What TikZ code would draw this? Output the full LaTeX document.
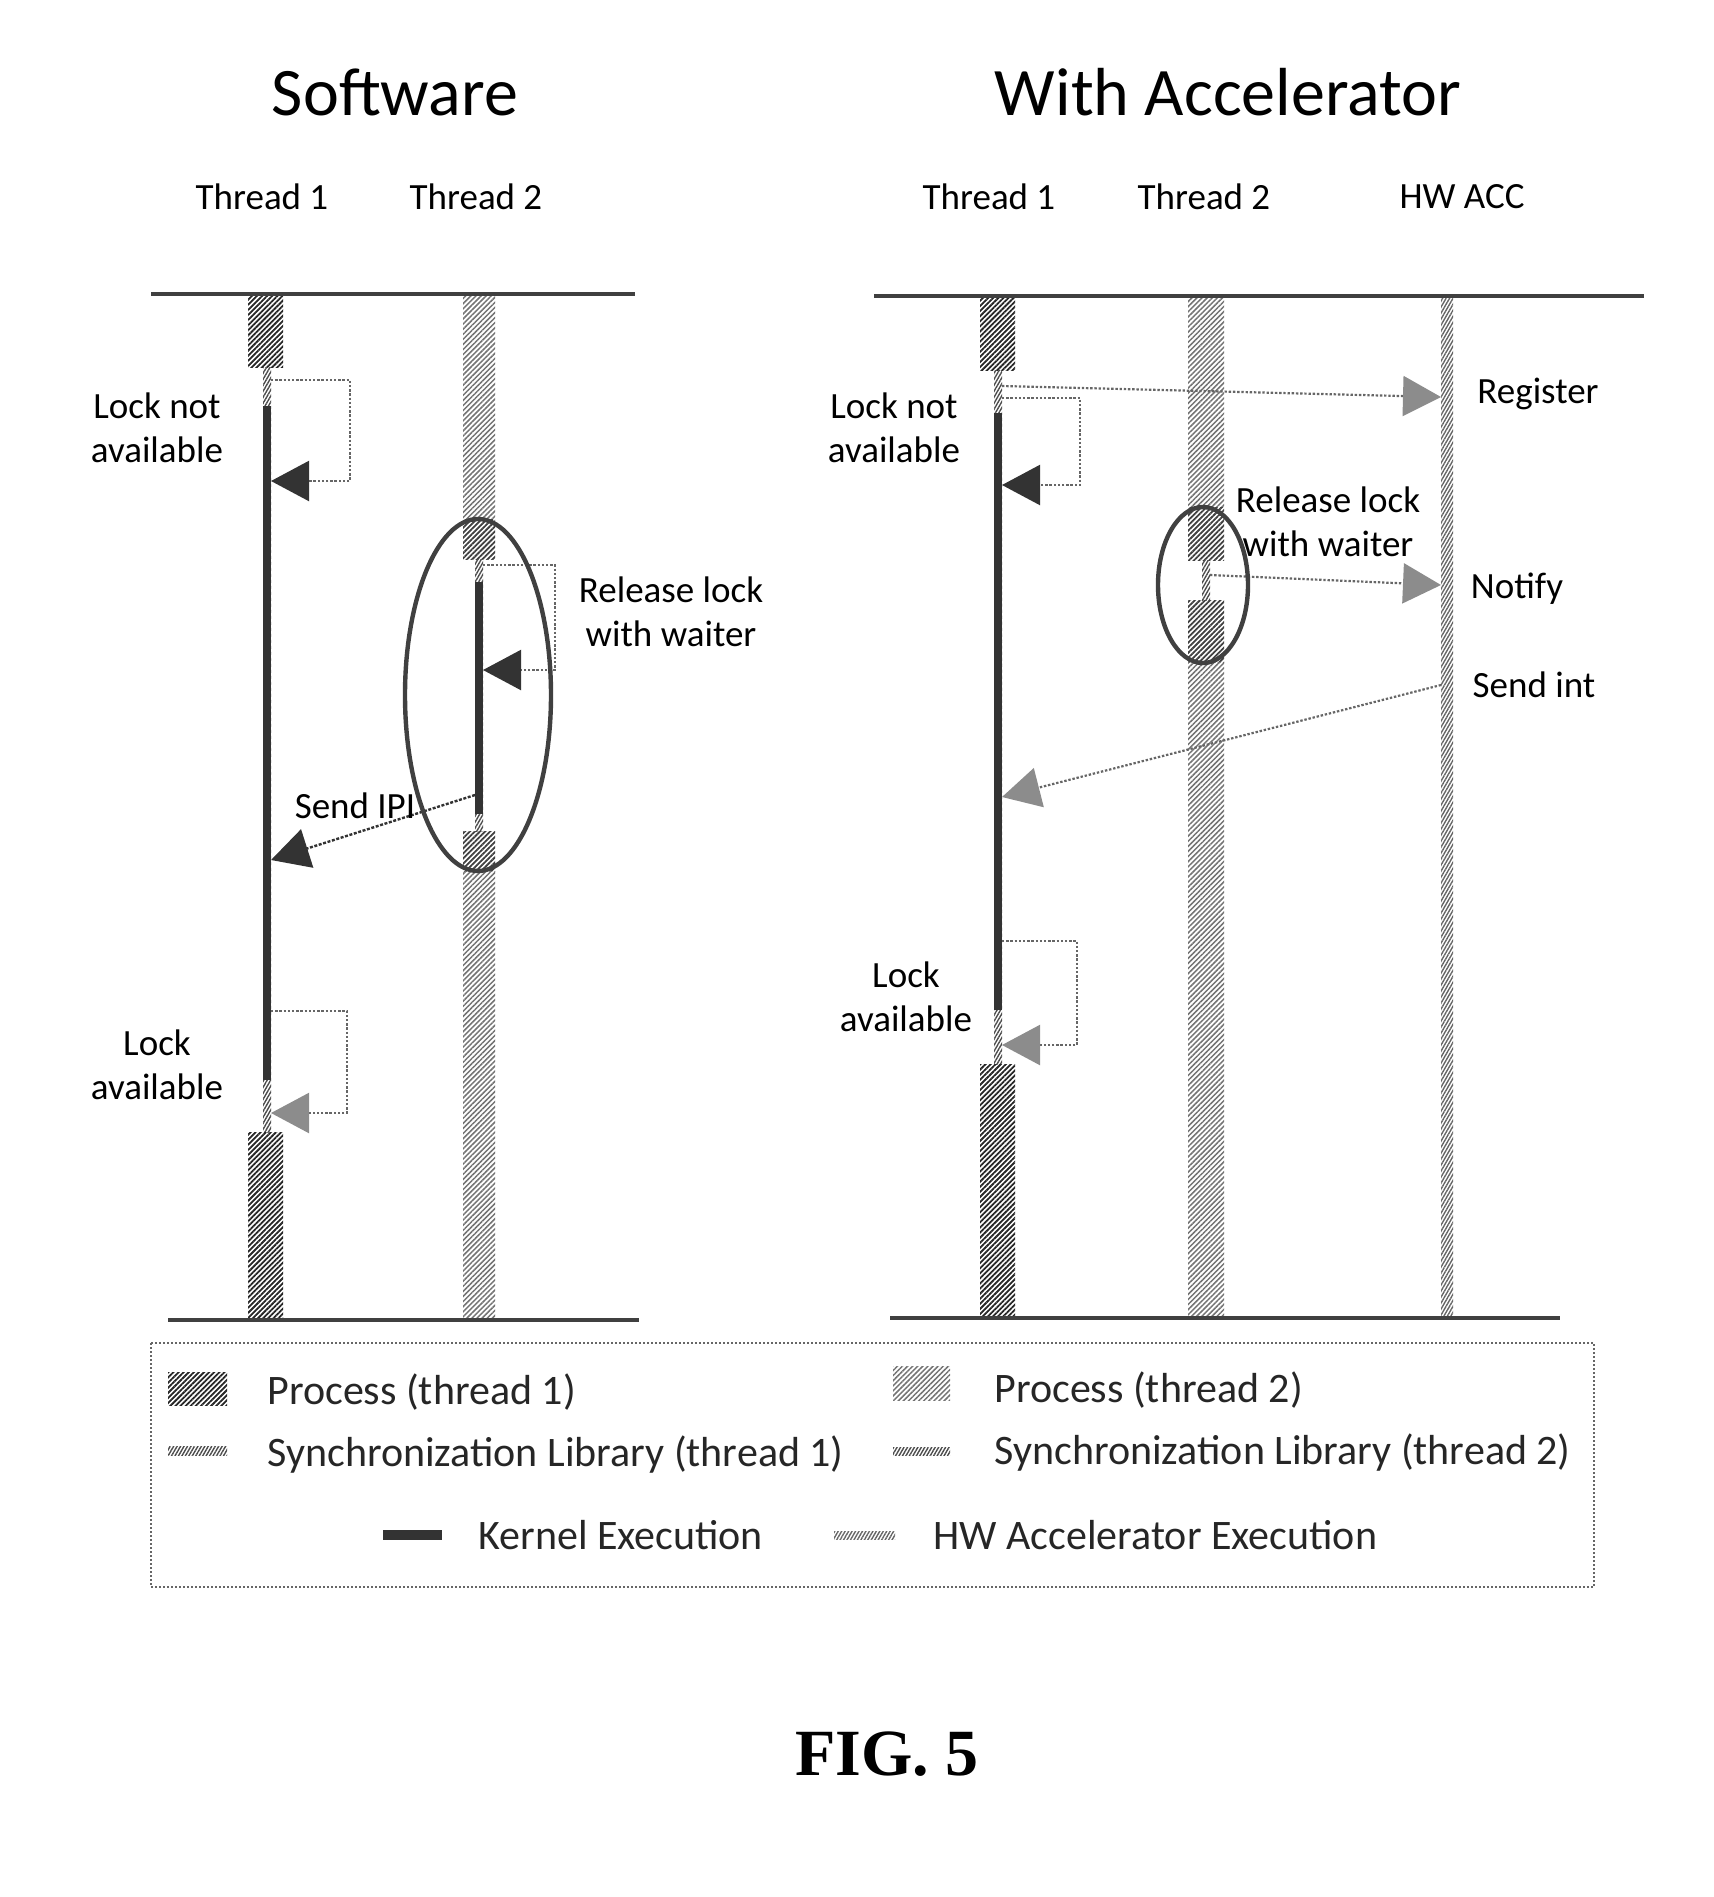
\documentclass[tikz,border=0pt]{standalone}
\usepackage{fontspec}
\setmainfont{Carlito}
\newfontfamily\figfont{Liberation Serif}
\usetikzlibrary{patterns.meta,arrows.meta}
\begin{document}
\begin{tikzpicture}[x=0.5pt,y=-0.5pt,
  procA/.style={pattern={Lines[angle=45,distance=1.8pt,line width=0.9pt]},pattern color=black!85},
  procB/.style={pattern={Lines[angle=45,distance=1.8pt,line width=0.75pt]},pattern color=black!55},
  procBd/.style={pattern={Lines[angle=45,distance=1.8pt,line width=0.9pt]},pattern color=black!75},
  syncbar/.style={pattern={Lines[angle=60,distance=1.5pt,line width=0.7pt]},pattern color=black!70},
  hwbar/.style={pattern={Lines[angle=60,distance=1.5pt,line width=0.7pt]},pattern color=black!60},
  kernel/.style={fill=black!80},
  timeaxis/.style={draw=black!75,line width=1.8pt},
  conn/.style={draw=black!60,line width=1.1pt,dash pattern=on 1.2pt off 0.9pt},
  conndark/.style={draw=black!80,line width=1.2pt,dash pattern=on 1.5pt off 0.8pt},
  darktip/.style={-{Triangle[length=19pt,width=20pt,fill=black!80,color=black!80]}},
  greytip/.style={-{Triangle[length=19pt,width=20pt,fill=black!45,color=black!45]}},
  ring/.style={draw=black!75,line width=2.2pt},
  ttl/.style={font=\fontsize{34}{40}\selectfont,inner sep=0pt},
  lane/.style={font=\fontsize{18.5}{22}\selectfont,inner sep=0pt},
  lbl/.style={font=\fontsize{18.5}{22}\selectfont,align=center,inner sep=0pt},
  legtxt/.style={font=\fontsize{21}{25}\selectfont,anchor=west,inner sep=0pt,text=black!85},
  legbox/.style={draw=black!60,line width=0.8pt,dash pattern=on 1pt off 1pt},
  figlbl/.style={font=\figfont\bfseries\fontsize{33}{38}\selectfont,inner sep=0pt}
]
\useasboundingbox (0,0) rectangle (1714,1897);

% ---------- titles ----------
\node[ttl] (tsw) at (395,92) {Software};
\node[ttl] (tacc) at (1228,92) {With Accelerator};
\node[lane] (hs1) at (262,197) {Thread 1};
\node[lane] (hs2) at (476,197) {Thread 2};
\node[lane] (ha1) at (989,197) {Thread 1};
\node[lane] (ha2) at (1204,197) {Thread 2};
\node[lane] (hhw) at (1462,197) {HW ACC};

% ---------- software: thread 1 ----------
\fill[procA] (248,294) rectangle (283,367);
\fill[syncbar] (263,367) rectangle (271,1132);
\fill[kernel] (263,406) rectangle (271,1080);
\fill[procA] (248,1132) rectangle (283,1320);
% ---------- software: thread 2 ----------
\fill[procB] (463,294) rectangle (495,519);
\fill[procBd] (463,519) rectangle (495,559);
\fill[syncbar] (475,559) rectangle (483,831);
\fill[kernel] (475,582) rectangle (483,814);
\fill[procBd] (463,831) rectangle (495,871);
\fill[procB] (463,871) rectangle (495,1320);

\draw[timeaxis] (151,294) -- (635,294);
\draw[timeaxis] (168,1320) -- (639,1320);

% software connectors
\coordinate (sA1) at (271,380); \coordinate (sA2) at (350,481); \coordinate (sA3) at (271,481);
\draw[conn,darktip] (sA1) -| (sA2) -- (sA3);
\coordinate (sB1) at (483,565); \coordinate (sB2) at (555,670); \coordinate (sB3) at (483,670);
\draw[conn,darktip] (sB1) -| (sB2) -- (sB3);
\coordinate (sC1) at (475,795); \coordinate (sC2) at (271,860);
\draw[conndark,darktip] (sC1) -- (sC2);
\coordinate (sD1) at (271,1011); \coordinate (sD2) at (347,1113); \coordinate (sD3) at (271,1113);
\draw[conn,greytip] (sD1) -| (sD2) -- (sD3);
\draw[ring] (478,695) ellipse [x radius=73, y radius=176];

\node[lbl] (sl1) at (157,428) {Lock not\\available};
\node[lbl] (sl2) at (671,612) {Release lock\\with waiter};
\node[lbl] (sl3) at (355,806) {Send IPI};
\node[lbl] (sl4) at (157,1065) {Lock\\available};

% ---------- accelerator: thread 1 ----------
\fill[procA] (980,296) rectangle (1015,370);
\fill[syncbar] (994,370) rectangle (1002,1064);
\fill[kernel] (994,413) rectangle (1002,1010);
\fill[procA] (980,1064) rectangle (1015,1318);
% ---------- accelerator: thread 2 ----------
\fill[procB] (1188,296) rectangle (1224,507);
\fill[procBd] (1188,507) rectangle (1224,560);
\fill[syncbar] (1202,560) rectangle (1210,600);
\fill[procBd] (1188,600) rectangle (1224,662);
\fill[procB] (1188,662) rectangle (1224,1318);
% ---------- HW ACC ----------
\fill[hwbar] (1441,296) rectangle (1453,1318);

\draw[timeaxis] (874,296) -- (1644,296);
\draw[timeaxis] (890,1318) -- (1560,1318);

% accelerator connectors
\coordinate (rA1) at (1002,386); \coordinate (rA2) at (1441,397);
\draw[conn,greytip] (rA1) -- (rA2);
\coordinate (rB1) at (1002,398); \coordinate (rB2) at (1080,485); \coordinate (rB3) at (1002,485);
\draw[conn,darktip] (rB1) -| (rB2) -- (rB3);
\coordinate (rC1) at (1210,575); \coordinate (rC2) at (1441,585);
\draw[conn,greytip] (rC1) -- (rC2);
\coordinate (rD1) at (1441,685); \coordinate (rD2) at (1002,797);
\draw[conn,greytip] (rD1) -- (rD2);
\coordinate (rE1) at (1002,941); \coordinate (rE2) at (1077,1045); \coordinate (rE3) at (1002,1045);
\draw[conn,greytip] (rE1) -| (rE2) -- (rE3);
\draw[ring] (1203,585) ellipse [x radius=45, y radius=78];

\node[lbl] (al1) at (894,428) {Lock not\\available};
\node[lbl] (al2) at (1538,394) {Register};
\node[lbl] (al3) at (1328,522) {Release lock\\with waiter};
\node[lbl] (al4) at (1517,589) {Notify};
\node[lbl] (al5) at (1534,685) {Send int};
\node[lbl] (al6) at (906,997) {Lock\\available};

% ---------- legend ----------
\draw[legbox] (151,1343) rectangle (1594,1587);
\fill[procA] (168,1372) rectangle (227,1405);
\node[legtxt] (lg1) at (267,1392) {Process (thread 1)};
\fill[procB] (893,1366) rectangle (950,1400);
\node[legtxt] (lg2) at (994,1390) {Process (thread 2)};
\fill[syncbar] (168,1446) rectangle (227,1455);
\node[legtxt] (lg3) at (267,1455) {Synchronization Library (thread 1)};
\fill[syncbar] (893,1447) rectangle (950,1455);
\node[legtxt] (lg4) at (994,1453) {Synchronization Library (thread 2)};
\fill[kernel] (383,1530) rectangle (442,1540);
\node[legtxt] (lg5) at (478,1535) {Kernel Execution};
\fill[hwbar] (834,1531) rectangle (895,1539);
\node[legtxt] (lg6) at (933,1535) {HW Accelerator Execution};

\node[figlbl] (fig) at (887,1754) {FIG. 5};
\end{tikzpicture}
\end{document}
